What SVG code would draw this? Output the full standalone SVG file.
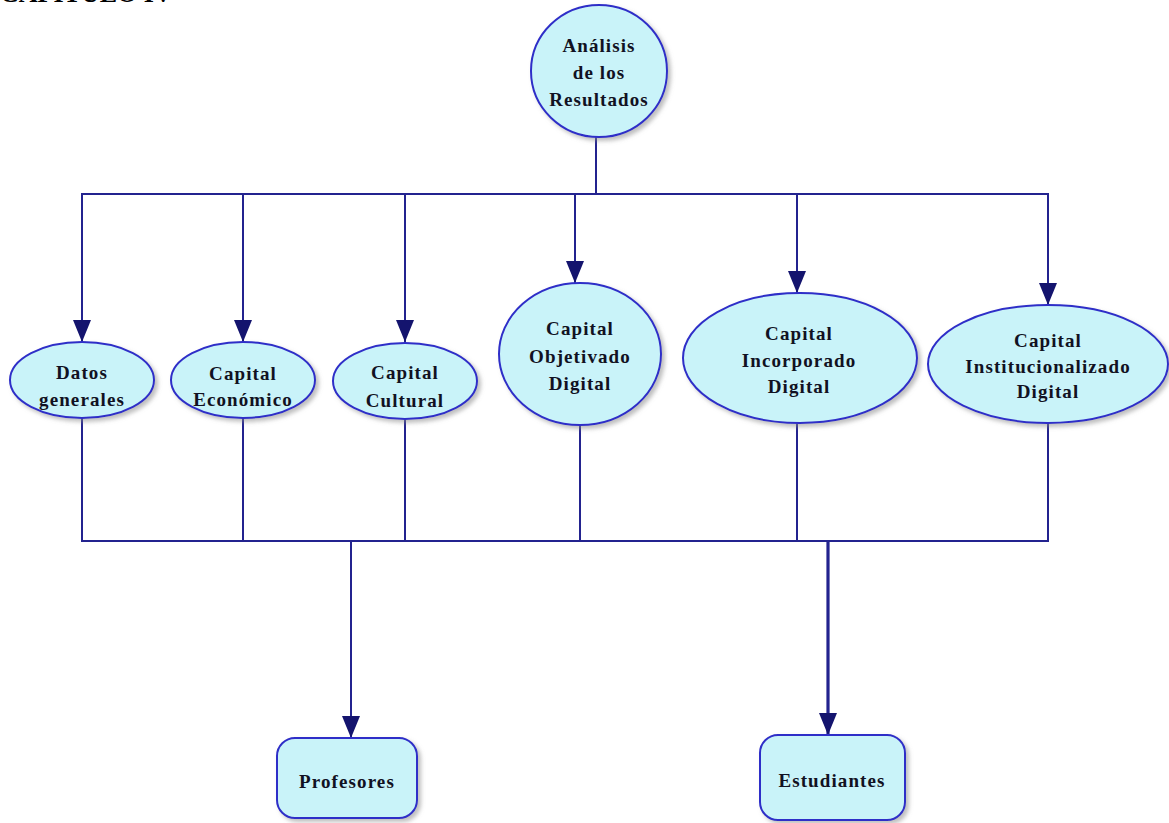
<svg xmlns="http://www.w3.org/2000/svg" width="1169" height="823" viewBox="0 0 1169 823">
  <style>
    .node { fill: #c9f3f9; stroke: #2f2fc8; stroke-width: 2; }
    .lbl { font-family: "Liberation Serif", "Times New Roman", serif; font-weight: bold; font-size: 19px; letter-spacing: 1.1px; fill: #111122; text-anchor: middle; }
    .conn { stroke: #23238f; stroke-width: 2; fill: none; }
    .thick { stroke-width: 3.2; }
    .title { font-family: "Liberation Serif", "Times New Roman", serif; font-weight: bold; font-size: 26px; fill: #000; }
  </style>
  <defs>
    <filter id="sh" x="-10%" y="-10%" width="130%" height="130%">
      <feDropShadow dx="3" dy="3" stdDeviation="2" flood-color="#888" flood-opacity="0.55"/>
    </filter>
    <marker id="arrL" markerUnits="userSpaceOnUse" markerWidth="24" markerHeight="20" refX="22" refY="9" orient="auto">
      <path d="M0,0 L22,9 L0,18 Z" fill="#14146e"/>
    </marker>
  </defs>
  <rect width="1169" height="823" fill="#ffffff"/>
  <text class="title" x="0" y="2">CAPITULO IV</text>

  <g id="connectors">
    <line class="conn" x1="596" y1="137" x2="596" y2="194"/>
    <line class="conn" x1="81" y1="194" x2="1049" y2="194"/>
    <line class="conn" x1="82" y1="194" x2="82" y2="342" marker-end="url(#arrL)"/>
    <line class="conn" x1="243" y1="194" x2="243" y2="342" marker-end="url(#arrL)"/>
    <line class="conn" x1="405" y1="194" x2="405" y2="342" marker-end="url(#arrL)"/>
    <line class="conn" x1="575" y1="194" x2="575" y2="283" marker-end="url(#arrL)"/>
    <line class="conn" x1="797" y1="194" x2="797" y2="293" marker-end="url(#arrL)"/>
    <line class="conn" x1="1048" y1="194" x2="1048" y2="305" marker-end="url(#arrL)"/>
    <line class="conn" x1="82" y1="418" x2="82" y2="541"/>
    <line class="conn" x1="243" y1="418" x2="243" y2="541"/>
    <line class="conn" x1="405" y1="419" x2="405" y2="541"/>
    <line class="conn" x1="580" y1="425" x2="580" y2="541"/>
    <line class="conn" x1="797" y1="423" x2="797" y2="541"/>
    <line class="conn" x1="1048" y1="423" x2="1048" y2="541"/>
    <line class="conn" x1="81" y1="541" x2="1049" y2="541"/>
    <line class="conn" x1="351" y1="541" x2="351" y2="738" marker-end="url(#arrL)"/>
    <line class="conn thick" x1="828" y1="541" x2="828" y2="735" marker-end="url(#arrL)"/>
  </g>

  <g id="analisis">
    <ellipse class="node" filter="url(#sh)" cx="599" cy="71" rx="68" ry="66"/>
    <text class="lbl" x="599" y="52">Análisis</text>
    <text class="lbl" x="599" y="79">de los</text>
    <text class="lbl" x="599" y="106">Resultados</text>
  </g>
  <g id="datos">
    <ellipse class="node" filter="url(#sh)" cx="82" cy="380" rx="72" ry="38"/>
    <text class="lbl" x="82" y="379">Datos</text>
    <text class="lbl" x="82" y="406">generales</text>
  </g>
  <g id="economico">
    <ellipse class="node" filter="url(#sh)" cx="243" cy="380" rx="72" ry="38"/>
    <text class="lbl" x="243" y="380">Capital</text>
    <text class="lbl" x="243" y="406">Económico</text>
  </g>
  <g id="cultural">
    <ellipse class="node" filter="url(#sh)" cx="405" cy="381" rx="72" ry="38"/>
    <text class="lbl" x="405" y="379">Capital</text>
    <text class="lbl" x="405" y="407">Cultural</text>
  </g>
  <g id="objetivado">
    <ellipse class="node" filter="url(#sh)" cx="580" cy="354" rx="81" ry="71"/>
    <text class="lbl" x="580" y="335">Capital</text>
    <text class="lbl" x="580" y="363">Objetivado</text>
    <text class="lbl" x="580" y="390">Digital</text>
  </g>
  <g id="incorporado">
    <ellipse class="node" filter="url(#sh)" cx="800" cy="358" rx="117" ry="65"/>
    <text class="lbl" x="799" y="340">Capital</text>
    <text class="lbl" x="799" y="367">Incorporado</text>
    <text class="lbl" x="799" y="393">Digital</text>
  </g>
  <g id="institucionalizado">
    <ellipse class="node" filter="url(#sh)" cx="1048" cy="364" rx="120" ry="59"/>
    <text class="lbl" x="1048" y="347">Capital</text>
    <text class="lbl" x="1048" y="373">Institucionalizado</text>
    <text class="lbl" x="1048" y="398">Digital</text>
  </g>
  <g id="profesores">
    <rect class="node" filter="url(#sh)" x="277" y="738" width="140" height="80" rx="18" ry="18"/>
    <text class="lbl" x="347" y="788">Profesores</text>
  </g>
  <g id="estudiantes">
    <rect class="node" filter="url(#sh)" x="760" y="735" width="145" height="85" rx="18" ry="18"/>
    <text class="lbl" x="832" y="787">Estudiantes</text>
  </g>
</svg>
